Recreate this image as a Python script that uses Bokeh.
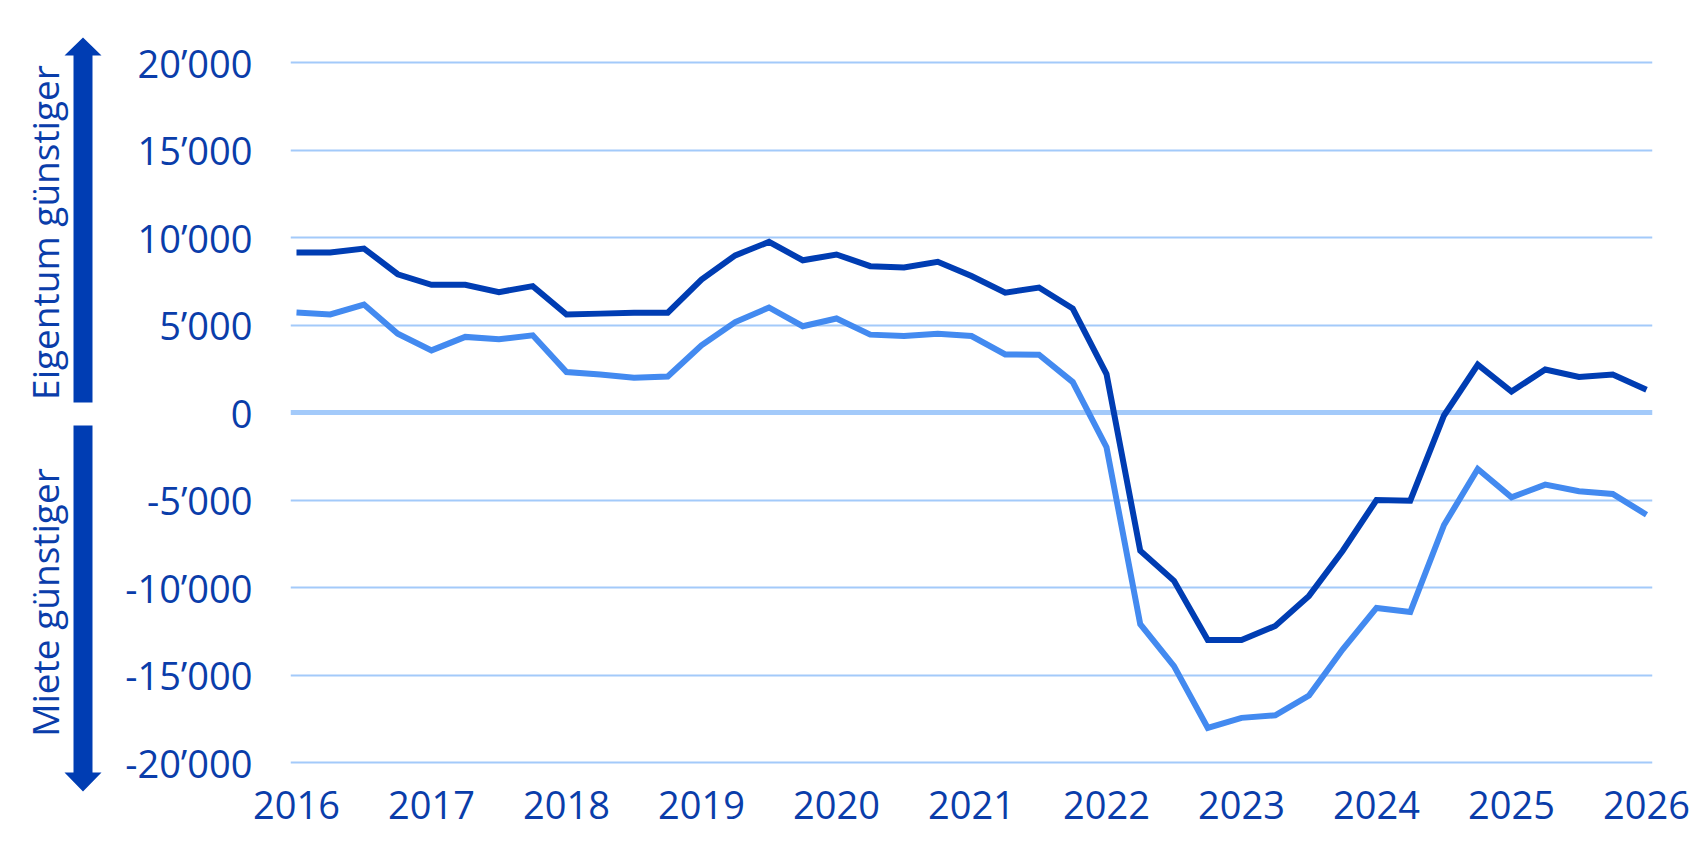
from math import pi
from bokeh.plotting import figure
from bokeh.layouts import row
from bokeh.models import Range1d, FixedTicker, Span
from bokeh.core.properties import value
from bokeh.embed import file_html
from bokeh.resources import INLINE

# ---- data -------------------------------------------------------------
quarters = [2016.00, 2016.25, 2016.50, 2016.75, 2017.00, 2017.25, 2017.50, 2017.75,
            2018.00, 2018.25, 2018.50, 2018.75, 2019.00, 2019.25, 2019.50, 2019.75,
            2020.00, 2020.25, 2020.50, 2020.75, 2021.00, 2021.25, 2021.50, 2021.75,
            2022.00, 2022.25, 2022.50, 2022.75, 2023.00, 2023.25, 2023.50, 2023.75,
            2024.00, 2024.25, 2024.50, 2024.75, 2025.00, 2025.25, 2025.50, 2025.75,
            2026.00]
series_dark = [9150, 9150, 9370, 7900, 7300, 7300, 6880, 7220,
               5600, 5650, 5700, 5700, 7600, 8980, 9750, 8700,
               9030, 8360, 8290, 8610, 7800, 6850, 7140, 5940,
               2200, -7900, -9620, -13000, -13000, -12200, -10480, -7900,
               -5000, -5040, -170, 2730, 1200, 2460, 2030, 2170,
               1300]
series_light = [5710, 5600, 6170, 4500, 3550, 4320, 4180, 4410,
                2310, 2170, 1980, 2060, 3840, 5170, 6000, 4930,
                5370, 4450, 4370, 4500, 4370, 3320, 3300, 1740,
                -1980, -12100, -14490, -18020, -17450, -17300, -16170, -13530,
                -11170, -11400, -6430, -3230, -4850, -4120, -4500, -4660,
                -5840]
x_ticks = [2016, 2017, 2018, 2019, 2020, 2021, 2022, 2023, 2024, 2025, 2026]
x_tick_labels = ["2016", "2017", "2018", "2019", "2020", "2021", "2022", "2023",
                 "2024", "2025", "2026"]
y_ticks = [-20000, -15000, -10000, -5000, 0, 5000, 10000, 15000, 20000]
y_tick_labels = ["-20’000", "-15’000", "-10’000", "-5’000", "0", "5’000",
                 "10’000", "15’000", "20’000"]
label_up = "Eigentum günstiger"
label_down = "Miete günstiger"

# ---- styles -----------------------------------------------------------
DARK = "#003DB3"
LIGHT = "#438AF0"
GRID = "#A3CAFA"
TEXT = "#0A3DAA"
FONT = "Open Sans"
H = 842
LEFT_W = 110
FRAME_TOP = 35      # page px
FRAME_BOTTOM = 793  # page px

# ---- main chart -------------------------------------------------------
p = figure(width=1692 - LEFT_W, height=H, output_backend="svg", toolbar_location=None,
           x_range=Range1d(2015.9556, 2026.0444),
           y_range=Range1d(-21771.4, 21542.9),
           min_border_left=290 - LEFT_W, min_border_right=40,
           min_border_top=FRAME_TOP, min_border_bottom=H - FRAME_BOTTOM)
p.outline_line_color = None
p.background_fill_color = "white"
p.border_fill_color = "white"

p.xgrid.visible = False
p.ygrid.ticker = FixedTicker(ticks=[t for t in y_ticks if t != 0])
p.ygrid.grid_line_color = GRID
p.ygrid.grid_line_width = 2

zero = Span(location=0, dimension="width", line_color=GRID, line_width=5,
            level="underlay")
p.add_layout(zero)

for ax in (p.xaxis[0], p.yaxis[0]):
    ax.axis_line_color = None
    ax.major_tick_line_color = None
    ax.minor_tick_line_color = None
    ax.major_tick_out = 0
    ax.major_tick_in = 0
    ax.major_label_text_color = TEXT
    ax.major_label_text_font = FONT
    ax.major_label_text_font_size = "38px"

p.xaxis.ticker = FixedTicker(ticks=x_ticks)
p.xaxis.major_label_overrides = {t: l for t, l in zip(x_ticks, x_tick_labels)}
p.xaxis.major_label_standoff = -3
p.yaxis.ticker = FixedTicker(ticks=y_ticks)
p.yaxis.major_label_overrides = {t: l for t, l in zip(y_ticks, y_tick_labels)}
p.yaxis.major_label_standoff = 38

p.line(quarters, series_light, line_color=LIGHT, line_width=6, line_join="miter")
p.line(quarters, series_dark, line_color=DARK, line_width=6, line_join="miter")

# ---- side panel: arrows and rotated labels (page-pixel coordinates) ---
side = figure(width=LEFT_W, height=H, output_backend="svg", toolbar_location=None,
              x_range=Range1d(0, LEFT_W), y_range=Range1d(FRAME_BOTTOM, FRAME_TOP),
              min_border=0, min_border_left=0, min_border_right=0,
              min_border_top=FRAME_TOP, min_border_bottom=H - FRAME_BOTTOM)
side.axis.visible = False
side.grid.visible = False
side.outline_line_color = None
side.border_fill_color = "white"
side.background_fill_color = "white"

side.patch([73, 73, 64, 82.5, 101, 92, 92], [402, 55, 55, 37, 55, 55, 402],
           fill_color=DARK, line_color=None)
side.patch([73, 73, 64, 82.5, 101, 92, 92], [425, 772, 772, 791, 772, 772, 425],
           fill_color=DARK, line_color=None)
side.text([44], [232], text=[label_up], angle=pi / 2, text_align="center",
          text_baseline="alphabetic", text_font=value(FONT),
          text_font_size="37px", text_color=TEXT)
side.text([44], [602], text=[label_down], angle=pi / 2, text_align="center",
          text_baseline="alphabetic", text_font=value(FONT),
          text_font_size="37px", text_color=TEXT)

layout = row(side, p, spacing=0)
open("out.html", "w").write(file_html(layout, INLINE))
